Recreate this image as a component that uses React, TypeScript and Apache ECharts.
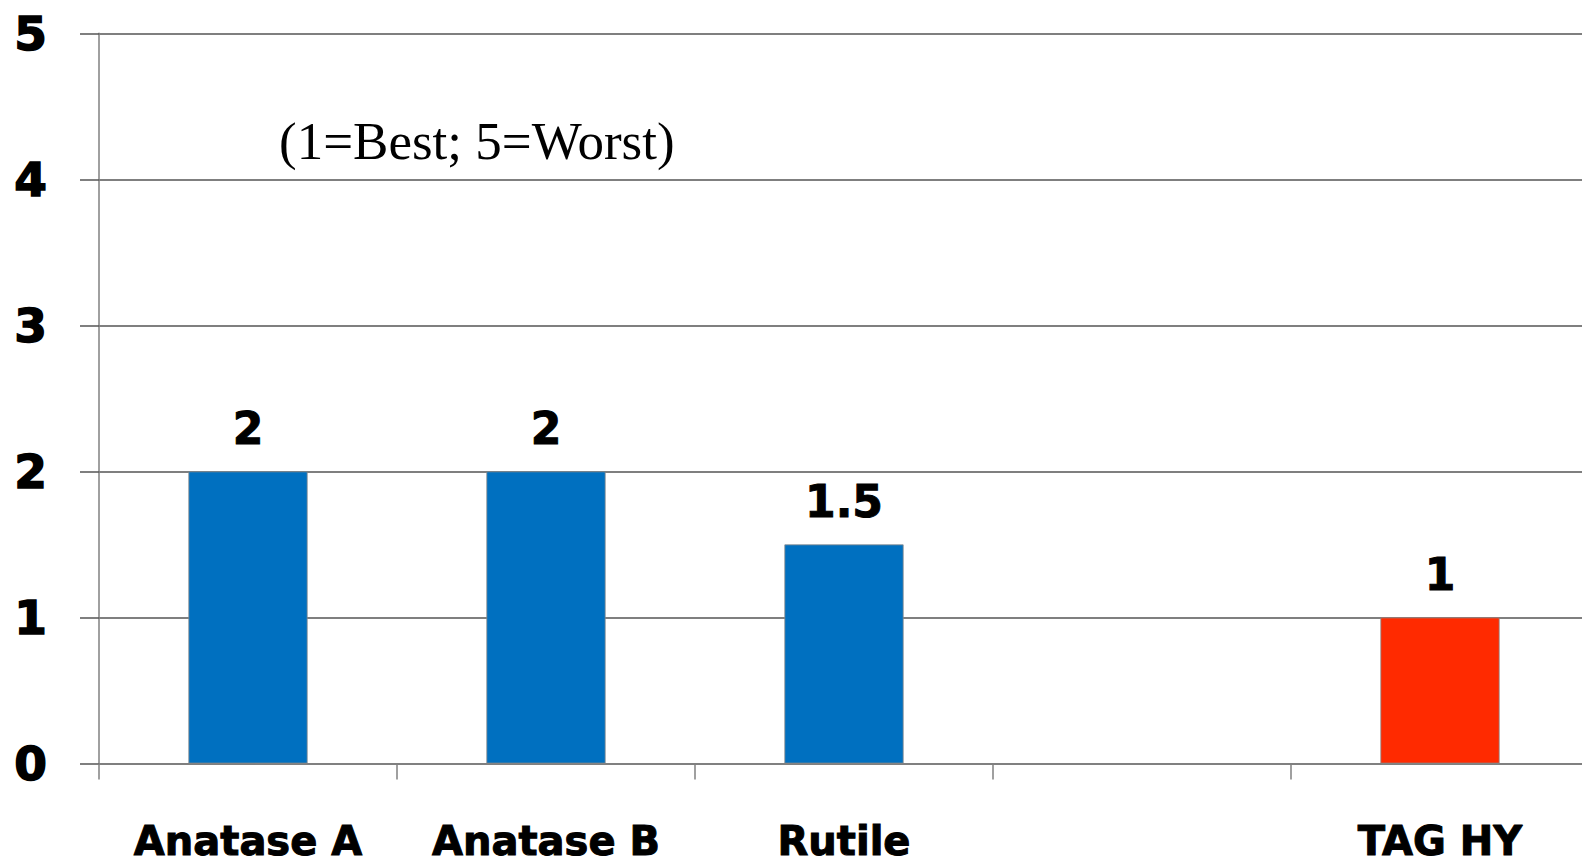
import React, { useEffect, useRef } from "react";
import * as echarts from "echarts";

const categories = ["Anatase A", "Anatase B", "Rutile", "", "TAG HY"];
const scores: (number | null)[] = [2, 2, 1.5, null, 1];
const barColors = ["#0070C0", "#0070C0", "#0070C0", "#0070C0", "#FF2A00"];
const yTicks = [0, 1, 2, 3, 4, 5];
const note = "(1=Best; 5=Worst)";

export default function App() {
  const ref = useRef<HTMLDivElement>(null);
  useEffect(() => {
    if (!ref.current) return;
    const chart = echarts.init(ref.current, undefined, { renderer: "svg" });
    const boldFont = "DejaVu Sans";
    chart.setOption({
      animation: false,
      backgroundColor: "#ffffff",
      grid: { left: 99, top: 33.3, bottom: 96.5, right: 0, containLabel: false },
      xAxis: {
        type: "category",
        data: categories,
        axisLine: { show: true, lineStyle: { color: "#808080", width: 1.5 } },
        axisTick: { show: true, length: 16, alignWithLabel: false, lineStyle: { color: "#808080", width: 1.5 } },
        axisLabel: {
          interval: 0,
          margin: 77,
          verticalAlign: "middle",
          lineHeight: 30,
          fontFamily: boldFont,
          fontWeight: "bold",
          fontSize: 40,
          color: "#000",
          textBorderColor: "#000",
          textBorderWidth: 1,
        },
        splitLine: { show: false },
      },
      yAxis: {
        type: "value",
        min: yTicks[0],
        max: yTicks[yTicks.length - 1],
        interval: 1,
        axisLine: { show: true, lineStyle: { color: "#808080", width: 1.5 } },
        axisTick: { show: true, length: 19, lineStyle: { color: "#555", width: 1.5 } },
        axisLabel: {
          margin: 52,
          verticalAlign: "middle",
          padding: [0, 0, 17, 0],
          fontFamily: boldFont,
          fontWeight: "bold",
          fontSize: 47,
          color: "#000",
          textBorderColor: "#000",
          textBorderWidth: 1.5,
        },
        splitLine: { show: true, lineStyle: { color: "#555", width: 1.5 } },
      },
      series: [
        {
          type: "bar",
          barWidth: "40%",
          data: scores.map((v, i) => ({
            value: v,
            itemStyle: { color: barColors[i], borderColor: "#8a8a8a", borderWidth: 0.8 },
          })),
          label: {
            show: true,
            position: "top",
            distance: 43,
            verticalAlign: "middle",
            fontFamily: boldFont,
            fontWeight: "bold",
            fontSize: 44,
            color: "#000",
            textBorderColor: "#000",
            textBorderWidth: 1,
            formatter: (p: any) => (p.value == null ? "" : String(p.value)),
          },
        },
      ],
      graphic: [
        {
          type: "text",
          left: 279,
          top: 114,
          style: {
            text: note,
            fontFamily: "Liberation Serif",
            fontSize: 53,
            fill: "#000",
          },
        },
      ],
    });
    return () => chart.dispose();
  }, []);
  return (
    <div style={{ position: "fixed", left: 0, top: 0, width: 1582, height: 861, overflow: "hidden" }}>
      <div ref={ref} style={{ width: 1589, height: 861 }} />
    </div>
  );
}
